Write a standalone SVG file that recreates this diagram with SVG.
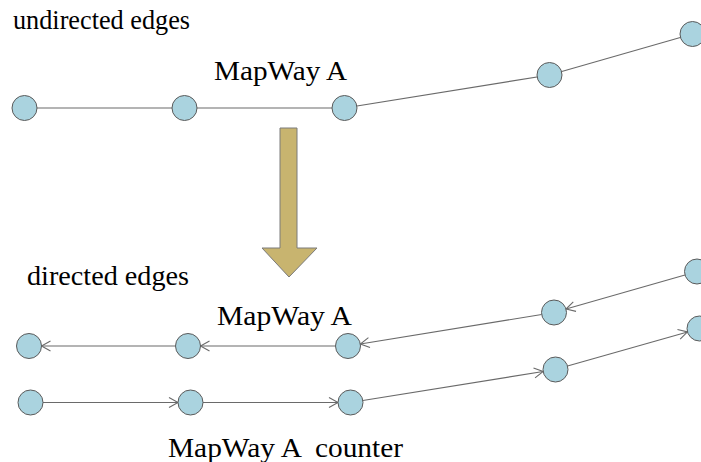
<svg xmlns="http://www.w3.org/2000/svg" width="701" height="462" viewBox="0 0 701 462">
<style>
.n{fill:#aad3df;stroke:#5a5a5a;stroke-width:1}
.e{stroke:#6a6a6a;stroke-width:1.1;fill:none}
.d{marker-end:url(#ah)}
.t{font-family:"Liberation Serif","Times New Roman",serif;font-size:27px;fill:#000}
</style>
<defs>
<marker id="ah" markerUnits="userSpaceOnUse" markerWidth="14" markerHeight="14" viewBox="-12 -7 14 14" refX="0" refY="0" orient="auto" overflow="visible">
<path d="M-9,-5 L0,0 L-9,5" fill="none" stroke="#6a6a6a" stroke-width="1.1"/>
</marker>
</defs>
<rect width="701" height="462" fill="#fff"/>
<g id="labels">
<text class="t" x="13" y="29" textLength="177" lengthAdjust="spacingAndGlyphs">undirected edges</text>
<text class="t" x="214" y="80" textLength="133" lengthAdjust="spacingAndGlyphs">MapWay A</text>
<text class="t" x="27" y="285" textLength="162" lengthAdjust="spacingAndGlyphs">directed edges</text>
<text class="t" x="217" y="325" textLength="135" lengthAdjust="spacingAndGlyphs">MapWay A</text>
<text class="t" x="168" y="457" textLength="235" lengthAdjust="spacingAndGlyphs" xml:space="preserve">MapWay A  counter</text>
</g>
<g id="connectors">
<line class="e" x1="24.5" y1="108" x2="184.5" y2="108"/>
<line class="e" x1="184.5" y1="108" x2="344.5" y2="108"/>
<line class="e" x1="344.5" y1="108" x2="549.5" y2="75"/>
<line class="e" x1="549.5" y1="75" x2="692.5" y2="34"/>
<line class="e d" x1="684.98" y1="274.95" x2="566.02" y2="309.05"/>
<line class="e d" x1="541.66" y1="314.51" x2="360.34" y2="343.99"/>
<line class="e d" x1="335.5" y1="346" x2="200.5" y2="346"/>
<line class="e d" x1="175.5" y1="346" x2="41.5" y2="346"/>
<line class="e d" x1="43" y1="402.5" x2="178" y2="402.5"/>
<line class="e d" x1="203" y1="402.5" x2="338" y2="402.5"/>
<line class="e d" x1="362.84" y1="400.51" x2="543.16" y2="371.49"/>
<line class="e d" x1="567.52" y1="366.08" x2="687.48" y2="331.92"/>
</g>
<g id="transform-arrow">
<polygon points="280,128 297,128 297,248 317,248 289,277 262,248 280,248" fill="#c8b46f" stroke="#7a7a7a" stroke-width="1"/>
</g>
<g id="undirected-nodes">
<circle id="u1" class="n" cx="24.5" cy="108" r="12.5"/>
<circle id="u2" class="n" cx="184.5" cy="108" r="12.5"/>
<circle id="u3" class="n" cx="344.5" cy="108" r="12.5"/>
<circle id="u4" class="n" cx="549.5" cy="75" r="12.5"/>
<circle id="u5" class="n" cx="692.5" cy="34" r="12.5"/>
</g>
<g id="directed-nodes">
<circle id="a1" class="n" cx="29" cy="346" r="12.5"/>
<circle id="a2" class="n" cx="188" cy="346" r="12.5"/>
<circle id="a3" class="n" cx="348" cy="346" r="12.5"/>
<circle id="a4" class="n" cx="554" cy="312.5" r="12.5"/>
<circle id="a5" class="n" cx="697" cy="271.5" r="12.5"/>
<circle id="b1" class="n" cx="30.5" cy="402.5" r="12.5"/>
<circle id="b2" class="n" cx="190.5" cy="402.5" r="12.5"/>
<circle id="b3" class="n" cx="350.5" cy="402.5" r="12.5"/>
<circle id="b4" class="n" cx="555.5" cy="369.5" r="12.5"/>
<circle id="b5" class="n" cx="699.5" cy="328.5" r="12.5"/>
</g>
</svg>
